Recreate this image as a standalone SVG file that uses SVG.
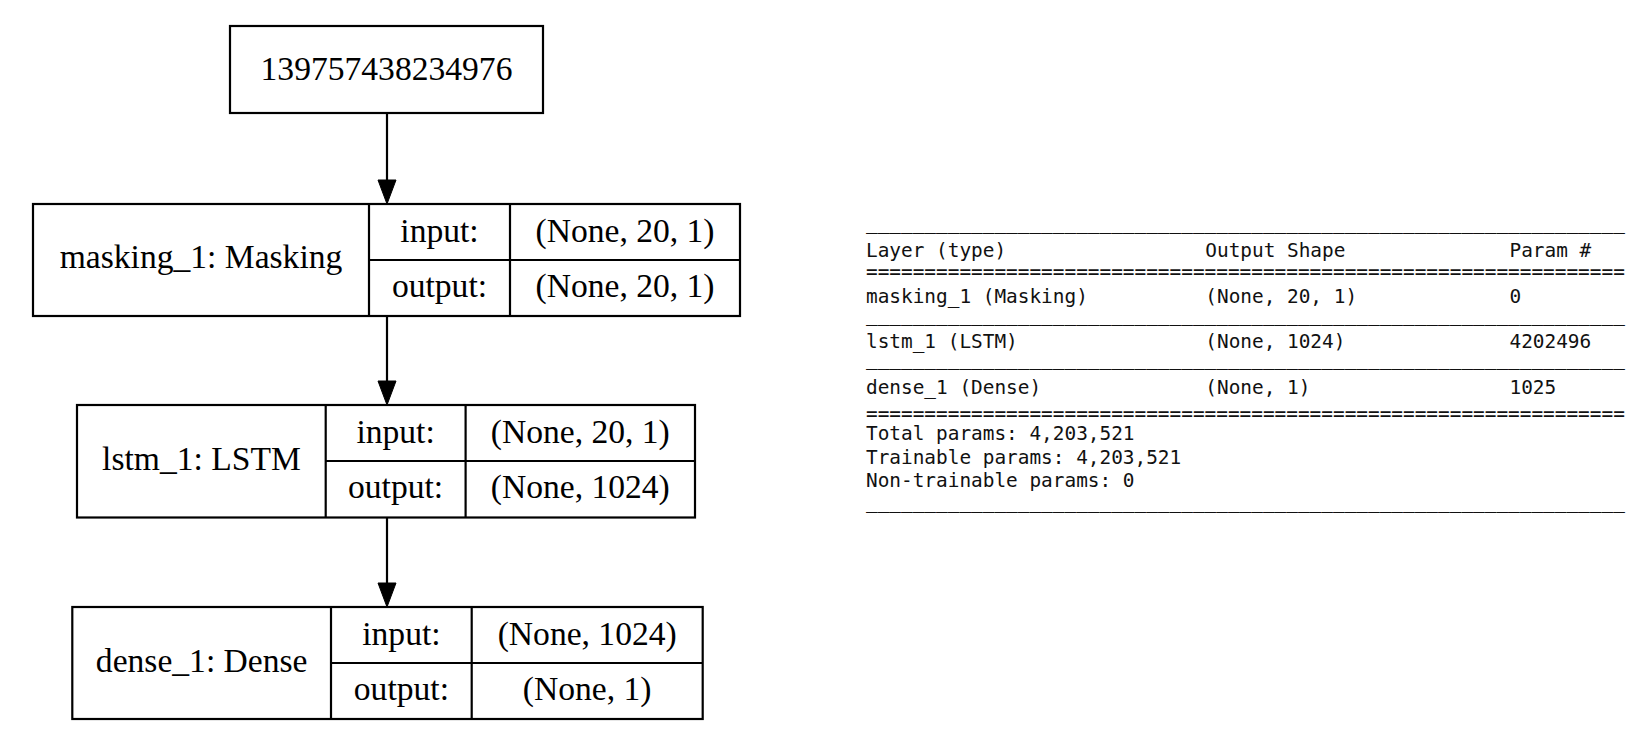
<svg xmlns="http://www.w3.org/2000/svg" width="1648" height="742" viewBox="0 0 1648 742">
<style>
.box{fill:#fff;stroke:#000;stroke-width:2.2}
.ln{stroke:#000;stroke-width:2.2;fill:none}
.t{font-family:"Liberation Serif","Times New Roman",serif;font-size:33.6px;fill:#000;text-anchor:middle}
.m{font-family:"DejaVu Sans Mono","Liberation Mono",monospace;font-size:19.4px;fill:#111}
.ah{fill:#000;stroke:#000;stroke-width:1}
</style>
<rect width="1648" height="742" fill="#fff"/>
<g id="connectors">
<line class="ln" x1="387" y1="113" x2="387" y2="181"/>
<polygon class="ah" points="378,180 396,180 387,204"/>
<line class="ln" x1="387" y1="316" x2="387" y2="382"/>
<polygon class="ah" points="378,381 396,381 387,405"/>
<line class="ln" x1="387" y1="517.5" x2="387" y2="584"/>
<polygon class="ah" points="378,583 396,583 387,607"/>
</g>
<g id="node_input">
<rect class="box" x="230" y="26" width="313" height="87"/>
<text class="t" x="386.5" y="80">139757438234976</text>
</g>
<g id="node_masking">
<rect class="box" x="33" y="204" width="707" height="112"/>
<line class="ln" x1="369" y1="204" x2="369" y2="316"/>
<line class="ln" x1="510" y1="204" x2="510" y2="316"/>
<line class="ln" x1="369" y1="260" x2="740" y2="260"/>
<text class="t" x="201" y="268">masking_1: Masking</text>
<text class="t" x="439.5" y="241.7">input:</text>
<text class="t" x="439.5" y="296.7">output:</text>
<text class="t" x="625" y="241.7">(None, 20, 1)</text>
<text class="t" x="625" y="296.7">(None, 20, 1)</text>
</g>
<g id="node_lstm">
<rect class="box" x="77" y="405" width="618" height="112.5"/>
<line class="ln" x1="325.7" y1="405" x2="325.7" y2="517.5"/>
<line class="ln" x1="465.6" y1="405" x2="465.6" y2="517.5"/>
<line class="ln" x1="325.7" y1="461" x2="695" y2="461"/>
<text class="t" x="201.4" y="470">lstm_1: LSTM</text>
<text class="t" x="395.6" y="442.7">input:</text>
<text class="t" x="395.6" y="497.7">output:</text>
<text class="t" x="580.3" y="442.7">(None, 20, 1)</text>
<text class="t" x="580.3" y="497.7">(None, 1024)</text>
</g>
<g id="node_dense">
<rect class="box" x="72.3" y="607" width="630.4" height="112"/>
<line class="ln" x1="331" y1="607" x2="331" y2="719"/>
<line class="ln" x1="471.7" y1="607" x2="471.7" y2="719"/>
<line class="ln" x1="331" y1="663" x2="702.7" y2="663"/>
<text class="t" x="201.7" y="671.5">dense_1: Dense</text>
<text class="t" x="401.4" y="644.7">input:</text>
<text class="t" x="401.4" y="699.7">output:</text>
<text class="t" x="587.2" y="644.7">(None, 1024)</text>
<text class="t" x="587.2" y="699.7">(None, 1)</text>
</g>
<g id="summary">
<text class="m" x="866" y="229.3">_________________________________________________________________</text>
<text class="m" x="866" y="256.7">Layer (type)</text>
<text class="m" x="1205.3" y="256.7">Output Shape</text>
<text class="m" x="1509.5" y="256.7">Param #</text>
<text class="m" x="866" y="278">=================================================================</text>
<text class="m" x="866" y="303">masking_1 (Masking)</text>
<text class="m" x="1205.3" y="303">(None, 20, 1)</text>
<text class="m" x="1509.5" y="303">0</text>
<text class="m" x="866" y="321">_________________________________________________________________</text>
<text class="m" x="866" y="348.3">lstm_1 (LSTM)</text>
<text class="m" x="1205.3" y="348.3">(None, 1024)</text>
<text class="m" x="1509.5" y="348.3">4202496</text>
<text class="m" x="866" y="365.4">_________________________________________________________________</text>
<text class="m" x="866" y="393.6">dense_1 (Dense)</text>
<text class="m" x="1205.3" y="393.6">(None, 1)</text>
<text class="m" x="1509.5" y="393.6">1025</text>
<text class="m" x="866" y="419.7">=================================================================</text>
<text class="m" x="866" y="440.4">Total params: 4,203,521</text>
<text class="m" x="866" y="463.8">Trainable params: 4,203,521</text>
<text class="m" x="866" y="487.4">Non-trainable params: 0</text>
<text class="m" x="866" y="507.5">_________________________________________________________________</text>
</g>
</svg>
